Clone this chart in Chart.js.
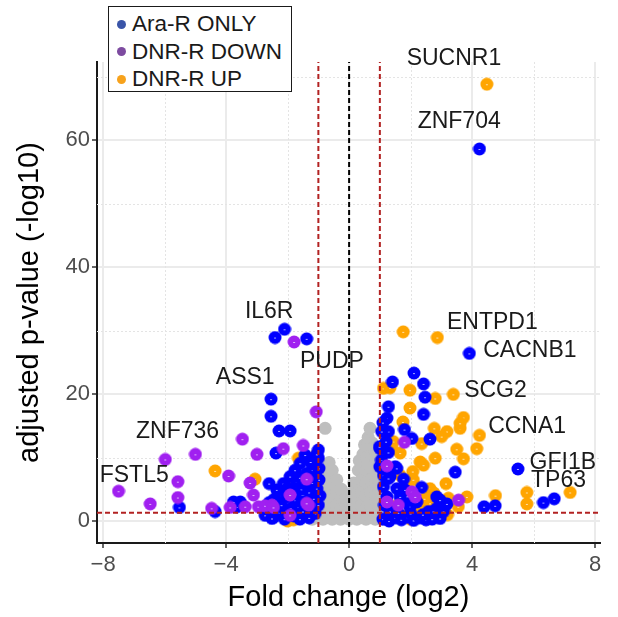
<!doctype html>
<html lang="en">
<head>
<meta charset="UTF-8" />
<title>Volcano plot</title>
<style>
  html, body { margin: 0; padding: 0; background: #fff; }
  #wrap { position: relative; width: 618px; height: 617px; }
  #legend {
    position: absolute; left: 108px; top: 6px; width: 184px; height: 86px;
    box-sizing: border-box; border: 1.7px solid #1a1a1a; background: #fff;
    font-family: "Liberation Sans", Arial, sans-serif; font-size: 22.5px; color: #1a1a1a;
  }
  .row { position: absolute; left: 0; height: 26px; line-height: 26px; white-space: nowrap; }
  .dot { position: absolute; left: 8px; top: 8.5px; width: 9px; height: 9px; border-radius: 50%; }
  .txt { position: absolute; left: 23px; top: 0; }
</style>
</head>
<body>
<div id="wrap">
  <canvas id="volcano" width="618" height="617"></canvas>
  <div id="legend"></div>
</div>

<script src="https://cdn.jsdelivr.net/npm/chart.js"></script>
<script>
// ---- data ----
const groupNames = ["Ara-R ONLY", "DNR-R DOWN", "DNR-R UP"];

const xTicks = [-8, -4, 0, 4, 8];
const xTickLabels = ["\u22128", "\u22124", "0", "4", "8"];
const xMinorTicks = [-6, -2, 2, 6];
const yTicks = [0, 20, 40, 60];
const yTickLabels = ["0", "20", "40", "60"];
const yMinorTicks = [10, 30, 50, 70];

const foldCutoffs = [-1, 1];
const centerLine = 0;
const pCutoff = 1.3;

// not significant genes (grey)
const greyPoints = [
  [-1.2, 0.3], [-1.2, 1.8],
  [-1.05, 0.5], [-1.05, 2.5], [-1.0, 4.5], [-0.95, 6.5],
  [-0.85, 0.3], [-0.85, 2], [-0.85, 4], [-0.85, 6], [-0.8, 8], [-0.78, 14.6],
  [-0.7, 0.5], [-0.7, 2.5], [-0.7, 4.5], [-0.68, 6.5], [-0.67, 8.5], [-0.65, 9.2],
  [-0.55, 0.3], [-0.55, 2], [-0.55, 4], [-0.55, 6], [-0.55, 8],
  [-0.42, 0.5], [-0.42, 2.5], [-0.4, 4.5], [-0.4, 6.5],
  [-0.28, 0.3], [-0.28, 2], [-0.26, 3.8], [-0.25, 5],
  [-0.15, 0.5], [-0.12, 2.2], [-0.1, 3.5],
  [0, 0.3], [0, 1.8], [0.02, 3.0],
  [0.12, 0.5], [0.12, 2.5], [0.12, 4.5], [0.15, 6],
  [0.25, 0.3], [0.25, 2], [0.25, 4], [0.27, 6], [0.3, 8], [0.33, 9.5],
  [0.4, 0.5], [0.4, 2.5], [0.4, 4.5], [0.4, 6.5], [0.42, 8.5], [0.45, 10.5], [0.5, 12],
  [0.55, 0.3], [0.55, 2], [0.55, 4], [0.55, 6], [0.55, 8], [0.57, 10], [0.6, 12], [0.62, 13.2],
  [0.68, 14.6],
  [0.7, 0.5], [0.7, 2.5], [0.7, 4.5], [0.7, 6.5], [0.7, 8.5], [0.72, 10.5], [0.75, 12.3],
  [0.85, 0.3], [0.85, 2], [0.85, 4], [0.85, 6], [0.85, 8], [0.85, 10], [0.8, 11.5],
  [0.95, 0.5], [0.95, 2.5], [0.95, 4.5], [0.95, 6.5], [0.95, 8.5],
  [1.1, 0.3], [1.1, 2]
];

// Ara-R ONLY (blue)
const araOnlyPoints = [
  [4.24, 58.6], [3.91, 26.4], [5.49, 8.2], [6.32, 2.9], [6.67, 3.5], [4.39, 2.25], [4.75, 2.4],
  [2.11, 23.3], [1.41, 21.9], [2.42, 21.6], [2.47, 19.5], [1.28, 18.0], [1.23, 16.2], [1.1, 15.5],
  [2.42, 16.8], [1.8, 14.4], [1.28, 14.1], [1.06, 14.1], [2.04, 13.0], [2.63, 12.9], [1.2, 12.5],
  [1.01, 11.4], [0.99, 11.7], [1.28, 10.8], [1.05, 9.6], [1.0, 8.55], [1.5, 8.55], [1.55, 8.3],
  [3.45, 7.7], [1.33, 7.0], [1.12, 7.2], [1.28, 6.7], [1.77, 6.6], [1.12, 5.4], [1.55, 5.1],
  [1.82, 4.9], [2.36, 5.3], [1.23, 3.8], [1.66, 3.8], [2.85, 3.8], [1.93, 2.8], [2.2, 3.0],
  [2.96, 3.3], [3.18, 2.7], [2.85, 2.0], [1.98, 2.25], [1.15, 2.5], [1.33, 1.5], [2.58, 1.5],
  [2.74, 1.5], [3.07, 1.5], [2.96, 0.4], [1.1, 0.3], [1.3, 0.0], [1.5, 0.5], [1.7, 0.2],
  [1.9, 0.6], [2.1, 0.1], [2.3, 0.5], [2.5, 0.2], [2.7, 0.3], [2.0, 1.2], [1.6, 1.3], [2.4, 1.0],
  [-2.1, 30.2], [-2.41, 28.9], [-1.38, 28.7], [-2.54, 19.2], [-2.54, 16.5], [-2.28, 14.2], [-1.92, 14.2],
  [-5.52, 2.15], [-4.36, 1.5], [-3.54, 3.0], [-3.65, 2.25], [-3.76, 3.0],
  [-2.38, 10.7], [-1.0, 11.2], [-1.43, 10.4], [-1.0, 9.9], [-1.25, 9.3], [-1.05, 10.5], [-1.59, 9.1],
  [-1.76, 8.0], [-1.21, 8.0], [-0.98, 8.3], [-1.4, 7.5], [-1.92, 7.0], [-1.1, 7.0], [-0.98, 6.5],
  [-1.7, 6.2], [-1.2, 6.0], [-2.6, 5.9], [-2.14, 5.9], [-2.0, 5.2], [-1.55, 5.0], [-1.05, 5.1],
  [-2.35, 4.9], [-1.9, 4.7], [-1.3, 4.5], [-2.2, 4.0], [-0.95, 4.0], [-2.05, 3.8], [-1.15, 3.5],
  [-1.76, 3.3], [-1.5, 3.0], [-2.2, 2.5], [-1.35, 2.5], [-1.0, 2.5], [-1.65, 2.2], [-1.9, 2.0],
  [-1.5, 1.5], [-2.3, 1.3], [-1.1, 1.2], [-2.0, 1.0], [-2.73, 0.9], [-1.8, 0.8], [-2.45, 0.6],
  [-1.3, 0.5], [-2.51, 0.4], [-2.1, 0.3], [-1.6, 0.3],
  [-1.6, 6.8], [-1.45, 5.9], [-1.75, 4.2], [-2.45, 3.4], [-2.6, 2.9], [-1.25, 1.8]
];

// DNR-R DOWN (purple)
const dnrDownPoints = [
  [-1.79, 28.2], [-1.07, 17.2], [-3.47, 12.9], [-7.5, 4.7], [-6.47, 2.7], [-5.98, 9.7],
  [-5.57, 6.2], [-5.57, 3.7], [-5.0, 10.5], [-3.92, 7.1], [-4.47, 2.0], [-3.87, 2.15],
  [-3.38, 2.25], [-3.0, 10.5], [-3.22, 6.0], [-3.11, 4.1], [-2.14, 11.4], [-1.49, 11.9],
  [-1.38, 6.6], [-1.32, 2.5], [-2.95, 2.25], [-2.73, 2.4], [-2.51, 2.5], [-2.46, 2.15],
  [-1.92, 4.1], [-1.38, 2.8], [-1.92, 0.9],
  [3.56, 3.3], [1.8, 12.4], [1.23, 8.7], [2.04, 4.6], [2.15, 3.8], [1.6, 2.5], [1.23, 3.0]
];

// DNR-R UP (orange)
const dnrUpPoints = [
  [4.48, 68.8], [2.87, 28.9], [1.76, 29.8], [3.39, 19.95], [4.24, 13.5], [7.19, 4.5],
  [5.78, 4.5], [5.78, 2.7], [4.76, 4.0], [3.83, 3.8],
  [1.12, 20.9], [1.33, 21.0], [1.98, 20.6], [2.8, 19.3], [1.98, 17.8], [3.72, 16.3], [1.75, 15.6],
  [2.77, 14.6], [3.18, 14.1], [3.01, 13.3], [3.61, 14.6], [3.61, 15.4], [2.36, 12.2], [1.44, 12.5],
  [1.39, 11.4], [1.66, 10.7], [4.15, 11.4], [3.5, 11.3], [3.72, 9.8], [2.8, 9.9], [2.31, 9.3],
  [2.42, 8.8], [2.07, 7.8], [1.66, 7.2], [2.09, 6.5], [3.15, 5.9], [2.63, 5.1], [2.76, 4.4],
  [3.23, 3.6], [3.55, 2.25], [2.31, 2.25], [2.63, 2.8], [1.9, 1.0], [2.2, 1.5], [2.5, 0.8],
  [2.9, 1.2], [3.2, 1.0], [3.1, 2.0], [2.0, 0.3], [2.45, 3.5], [1.45, 2.3], [1.7, 4.5],
  [1.85, 5.5], [2.9, 0.6],
  [-4.36, 7.9], [-3.06, 6.6], [-1.65, 9.9], [-1.07, 10.4], [-1.16, 7.0], [-1.81, 5.1],
  [-1.76, 5.7], [-2.0, 0.0], [-1.81, 0.2]
];

// labelled genes, label anchor in data units
const geneNames = ["SUCNR1", "ZNF704", "ENTPD1", "CACNB1", "SCG2", "CCNA1", "GFI1B", "TP63",
                   "IL6R", "PUDP", "ASS1", "ZNF736", "FSTL5"];
const geneLabelX = [3.41, 3.58, 4.66, 5.88, 4.76, 5.79, 6.95, 6.81, -2.6, -0.56, -3.38, -5.58, -6.99];
const geneLabelY = [72.8, 62.9, 31.3, 26.8, 20.6, 14.85, 9.24, 6.35, 33.0, 25.1, 22.6, 14.1, 7.17];

// ---- styling ----
const FONT = '"Liberation Sans", Arial, sans-serif';
const groupColors = ["#0000ff", "#a020f0", "#ffa500"];
const legendColors = ["#3a55a8", "#7d4ba0", "#f7a21c"];
const xMin = -8.2, xMax = 8.16, yMin = -3.46, yMax = 72.3;
const R = 6.5;

// filled dot with the faint white tick seen in the centre of each coloured point
function makeDot(color, r) {
  const c = document.createElement("canvas");
  const s = Math.ceil(r * 2) + 1;
  c.width = s; c.height = s;
  const g = c.getContext("2d");
  g.fillStyle = color;
  g.beginPath(); g.arc(s / 2, s / 2, r, 0, Math.PI * 2); g.fill();
  g.fillStyle = "rgba(255,255,255,0.65)";
  g.fillRect(Math.round(s / 2 - 1), Math.round(s / 2 - 0.5), 2, 1);
  return c;
}

const toXY = pts => pts.map(p => ({ x: p[0], y: p[1] }));

function refLine(x0, y0, x1, y1, color) {
  return {
    type: "line",
    data: [{ x: x0, y: y0 }, { x: x1, y: y1 }],
    borderColor: color, borderWidth: 2, borderDash: [5, 3],
    pointRadius: 0, fill: false, order: 0
  };
}

// minor grid, dotted
const minorGrid = {
  id: "minorGrid",
  beforeDatasetsDraw(chart) {
    const { ctx, chartArea: a, scales: { x, y } } = chart;
    ctx.save();
    ctx.strokeStyle = "#e4e4e4"; ctx.lineWidth = 1; ctx.setLineDash([2, 2]);
    xMinorTicks.forEach(v => {
      const px = Math.round(x.getPixelForValue(v)) + 0.5;
      ctx.beginPath(); ctx.moveTo(px, a.top); ctx.lineTo(px, a.bottom); ctx.stroke();
    });
    yMinorTicks.forEach(v => {
      const py = Math.round(y.getPixelForValue(v)) + 0.5;
      ctx.beginPath(); ctx.moveTo(a.left, py); ctx.lineTo(a.right, py); ctx.stroke();
    });
    ctx.restore();
  }
};

// gene names
const geneLabels = {
  id: "geneLabels",
  afterDatasetsDraw(chart) {
    const { ctx, scales: { x, y } } = chart;
    ctx.save();
    ctx.font = "23px " + FONT;
    ctx.fillStyle = "#1a1a1a";
    ctx.textAlign = "center"; ctx.textBaseline = "middle";
    geneNames.forEach((n, i) => {
      ctx.fillText(n, x.getPixelForValue(geneLabelX[i]), y.getPixelForValue(geneLabelY[i]));
    });
    ctx.restore();
  }
};

const ctx = document.getElementById("volcano").getContext("2d");

new Chart(ctx, {
  type: "scatter",
  data: {
    datasets: [
      refLine(centerLine, yMin, centerLine, yMax, "#000000"),
      refLine(foldCutoffs[0], yMin, foldCutoffs[0], yMax, "#b22222"),
      refLine(foldCutoffs[1], yMin, foldCutoffs[1], yMax, "#b22222"),
      refLine(xMin, pCutoff, xMax, pCutoff, "#b22222"),
      { label: "NS", data: toXY(greyPoints), pointStyle: "circle", pointRadius: R,
        backgroundColor: "#bebebe", borderWidth: 0, order: 6 },
      { label: groupNames[2], data: toXY(dnrUpPoints), pointStyle: makeDot(groupColors[2], R),
        pointRadius: R, order: 5 },
      { label: groupNames[0], data: toXY(araOnlyPoints), pointStyle: makeDot(groupColors[0], R),
        pointRadius: R, order: 4 },
      { label: groupNames[1], data: toXY(dnrDownPoints), pointStyle: makeDot(groupColors[1], R),
        pointRadius: R, order: 3 }
    ]
  },
  options: {
    responsive: false,
    animation: false,
    layout: { padding: { top: 62, right: 18, left: 0, bottom: 0 } },
    plugins: { legend: { display: false }, tooltip: { enabled: false } },
    scales: {
      x: {
        type: "linear", min: xMin, max: xMax,
        afterBuildTicks: s => { s.ticks = xTicks.map(v => ({ value: v })); },
        afterFit: s => { s.height = 74; },
        grid: { color: "#ebebeb", lineWidth: 2, tickLength: 5, tickColor: "#333333", tickWidth: 1.5 },
        border: { display: true, color: "#1a1a1a", width: 2 },
        ticks: {
          color: "#4d4d4d", font: { family: FONT, size: 22 }, padding: 4,
          maxRotation: 0, autoSkip: false,
          callback: v => xTickLabels[xTicks.indexOf(v)]
        },
        title: { display: true, text: "Fold change (log2)", color: "#000000",
                 font: { family: FONT, size: 29 }, padding: { top: 0, bottom: 2 } }
      },
      y: {
        type: "linear", min: yMin, max: yMax,
        afterBuildTicks: s => { s.ticks = yTicks.map(v => ({ value: v })); },
        afterFit: s => { s.width = 97; },
        grid: { color: "#ebebeb", lineWidth: 2, tickLength: 5, tickColor: "#333333", tickWidth: 1.5 },
        border: { display: true, color: "#1a1a1a", width: 2 },
        ticks: {
          color: "#4d4d4d", font: { family: FONT, size: 22 }, padding: 2,
          autoSkip: false,
          callback: v => yTickLabels[yTicks.indexOf(v)]
        },
        title: { display: true, text: "adjusted p-value (-log10)", color: "#000000",
                 font: { family: FONT, size: 29 }, padding: { top: 13, bottom: 0 } }
      }
    }
  },
  plugins: [minorGrid, geneLabels]
});

// legend box
const legendEl = document.getElementById("legend");
const rowTops = [4, 31.5, 59];
groupNames.forEach((name, i) => {
  const row = document.createElement("div");
  row.className = "row";
  row.style.top = rowTops[i] + "px";
  row.innerHTML = '<span class="dot" style="background:' + legendColors[i] + '"></span>' +
                  '<span class="txt">' + name + "</span>";
  legendEl.appendChild(row);
});
</script>
</body>
</html>
